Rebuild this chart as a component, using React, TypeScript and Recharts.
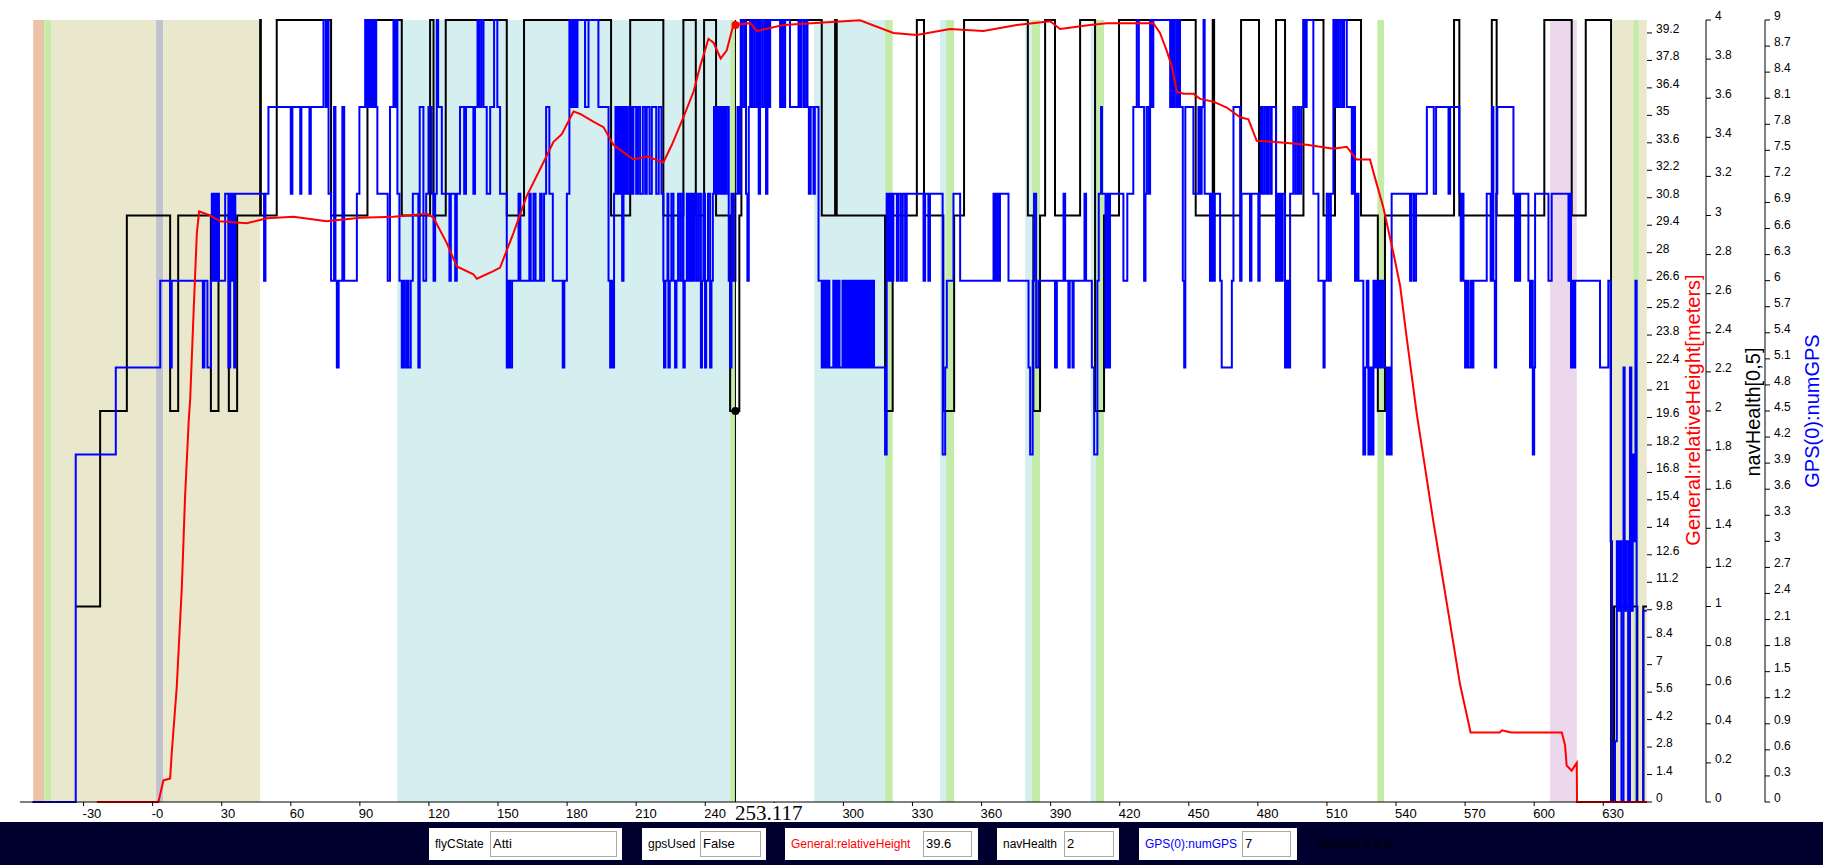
/** FlightLog — navHealth / numGPS / relativeHeight step traces over flight time, with flight-mode bands */
import {
  ComposedChart,
  Line,
  XAxis,
  YAxis,
  ReferenceArea,
  ReferenceLine,
  ReferenceDot,
} from 'recharts'

const FONT = "'Liberation Sans', Arial, sans-serif"

const T_START = -57.6
const T_END = 649
const CURSOR_T = 253.117

// right axes are stacked in id order, so ids keep height innermost
const AX_H = 'axis1Height'
const AX_NAV = 'axis2Nav'
const AX_GPS = 'axis3Gps'

// time ticks (seconds)
const xTicks = [-30, 0, 30, 60, 90, 120, 150, 180, 210, 240, 270, 300, 330, 360, 390, 420, 450, 480, 510, 540, 570, 600, 630]
const heightTicks = [0, 1.4, 2.8, 4.2, 5.6, 7, 8.4, 9.8, 11.2, 12.6, 14, 15.4, 16.8, 18.2, 19.6, 21, 22.4, 23.8, 25.2, 26.6, 28, 29.4, 30.8, 32.2, 33.6, 35, 36.4, 37.8, 39.2]
const navTicks = [0, 0.2, 0.4, 0.6, 0.8, 1, 1.2, 1.4, 1.6, 1.8, 2, 2.2, 2.4, 2.6, 2.8, 3, 3.2, 3.4, 3.6, 3.8, 4]
const gpsTicks = [0, 0.3, 0.6, 0.9, 1.2, 1.5, 1.8, 2.1, 2.4, 2.7, 3, 3.3, 3.6, 3.9, 4.2, 4.5, 4.8, 5.1, 5.4, 5.7, 6, 6.3, 6.6, 6.9, 7.2, 7.5, 7.8, 8.1, 8.4, 8.7, 9]

// flight mode periods [from, to, mode]
const modeBands: [number, number, string][] = [
  [-51.9, -47.1, 'motorStart'],
  [-47.1, -44.1, 'switch'],
  [-44.1, 1.5, 'atti'],
  [1.5, 4.6, 'takeoff'],
  [4.6, 46.7, 'atti'],
  [106.2, 250.8, 'gpsAtti'],
  [250.8, 253.4, 'switch'],
  [287.3, 318.1, 'gpsAtti'],
  [318.1, 321.4, 'switch'],
  [342.0, 344.6, 'gpsAtti'],
  [344.6, 348.1, 'switch'],
  [378.9, 381.8, 'gpsAtti'],
  [381.8, 385.4, 'switch'],
  [407.4, 409.6, 'gpsAtti'],
  [409.6, 413.2, 'switch'],
  [531.9, 534.8, 'switch'],
  [606.9, 618.5, 'autoLanding'],
  [634.1, 648.9, 'atti'],
  [643.1, 645.3, 'switch'],
]

const modeColors: Record<string, string> = {
  motorStart:  '#ebc3a8',
  switch:      '#c5eba8',
  atti:        '#e9e8cc',
  takeoff:     '#c0c2ce',
  gpsAtti:     '#d5eff0',
  autoLanding: '#ecd8ec',
}

// navHealth steps [t, value]
const navHealthSteps: [number, number][] = [
  [-33.4, 1], [-22.8, 2], [-11.2, 3], [7.6, 2], [11.1, 3], [25.3, 2], [28.6, 3], [33.1, 2], [36.7, 3],
  [46.7, 4], [47.0, 3], [53.9, 4], [77.5, 3], [93.3, 4], [108.2, 3], [120.5, 4], [122.0, 3], [127.3, 4],
  [153.8, 3], [161.3, 4], [199.1, 3], [207.4, 4], [221.8, 3], [230.5, 4], [235.9, 3], [239.5, 4],
  [244.7, 3], [250.8, 2], [254.8, 3], [255.7, 4], [290.6, 3], [296.4, 4], [297.1, 3], [318.1, 2],
  [321.4, 3], [331.9, 4], [335.0, 3], [343.4, 2], [348.1, 3], [352.4, 4], [380.1, 3], [382.5, 2],
  [385.4, 3], [387.6, 4], [391.9, 3], [402.8, 4], [409.3, 2], [413.2, 3], [419.7, 4], [453.0, 3],
  [460.4, 4], [461.0, 3], [472.7, 4], [480.5, 3], [487.9, 4], [491.8, 3], [499.8, 4], [508.5, 3],
  [513.5, 4], [524.8, 3], [532.1, 2], [535.2, 3], [565.2, 4], [567.5, 3], [581.6, 4], [583.7, 3],
  [604.4, 4], [616.3, 3], [622.4, 4], [633.4, 0], [634.7, 1], [644.8, 0], [647.4, 1], [649, 1],
]

// GPS(0):numGPS steps [t, value]
const numGpsSteps: [number, number][] = [
  [-52.2, 0], [-33.4, 4], [-16.0, 5], [3.3, 6], [7.6, 5], [8.3, 6], [21.8, 5], [22.5, 6], [23.8, 5], [25.3, 6],
  [25.7, 7], [26.4, 6], [27.0, 7], [27.6, 6], [28.2, 7], [28.8, 6], [31.5, 7], [32.9, 5], [33.7, 7], [34.4, 6],
  [35.0, 7], [35.4, 5], [35.9, 7], [48.4, 6], [49.0, 7], [50.3, 8], [60.0, 7], [60.7, 8], [64.1, 7], [64.6, 8],
  [68.1, 7], [68.7, 8], [74.2, 9], [75.2, 8], [75.6, 9], [76.4, 7], [77.5, 6], [78.8, 8], [79.4, 6], [80.0, 5],
  [80.8, 6], [82.4, 8], [83.2, 6], [88.7, 7], [89.8, 8], [92.3, 9], [92.9, 8], [93.4, 9], [94.2, 8], [94.9, 9],
  [95.6, 8], [96.3, 9], [97.1, 8], [97.6, 7], [102.1, 6], [103.1, 8], [104.6, 9], [105.2, 8], [105.7, 9], [106.3, 7],
  [107.2, 6], [108.2, 5], [108.9, 6], [109.5, 5], [110.4, 6], [111.1, 5], [112.1, 6], [113.0, 7], [115.4, 5], [116.0, 8],
  [117.6, 6], [118.8, 7], [119.8, 8], [121.2, 7], [122.0, 6], [122.7, 7], [123.4, 9], [124.0, 8], [125.6, 7], [128.9, 6],
  [129.5, 7], [131.4, 6], [132.1, 7], [133.5, 8], [135.3, 7], [136.1, 8], [139.3, 7], [140.0, 8], [141.1, 9], [141.9, 8],
  [142.8, 9], [143.7, 8], [145.1, 7], [146.6, 8], [148.3, 9], [149.7, 8], [150.9, 7], [153.8, 5], [154.5, 6], [155.2, 5],
  [156.1, 6], [158.9, 7], [159.7, 6], [163.6, 7], [164.2, 6], [165.4, 7], [166.3, 6], [168.3, 7], [169.0, 6], [170.0, 7],
  [170.9, 8], [172.3, 7], [173.8, 6], [178.1, 5], [178.8, 6], [179.9, 7], [181.0, 9], [181.6, 8], [182.2, 9], [182.8, 8],
  [183.3, 9], [183.9, 8], [184.5, 9], [187.8, 8], [189.3, 9], [193.6, 8], [198.0, 6], [198.7, 5], [199.3, 6], [199.8, 5],
  [200.4, 7], [201.0, 8], [201.6, 7], [202.2, 8], [202.7, 7], [203.3, 8], [203.9, 6], [204.5, 8], [205.0, 7], [205.6, 8],
  [206.2, 7], [207.1, 8], [208.1, 7], [208.8, 8], [210.0, 7], [210.8, 8], [211.7, 7], [212.9, 8], [213.9, 7], [214.6, 8],
  [215.8, 7], [216.8, 8], [218.7, 7], [219.8, 8], [221.0, 7], [221.8, 6], [222.1, 5], [222.7, 6], [223.6, 7], [224.0, 5],
  [224.6, 6], [225.3, 7], [226.2, 6], [226.9, 5], [227.5, 6], [228.2, 7], [229.1, 6], [230.0, 7], [230.5, 5], [231.1, 6],
  [232.0, 7], [232.6, 6], [233.1, 7], [233.7, 6], [234.3, 7], [234.9, 6], [235.4, 7], [236.3, 6], [237.2, 7], [238.1, 5],
  [238.6, 6], [239.2, 7], [239.9, 5], [240.4, 6], [241.2, 7], [242.1, 5], [242.7, 6], [243.3, 7], [243.8, 8], [244.4, 7],
  [245.0, 8], [245.7, 7], [246.5, 8], [247.2, 7], [247.9, 8], [248.6, 7], [249.3, 8], [250.2, 6], [250.8, 5], [251.4, 7],
  [252.2, 6], [253.1, 7], [254.0, 8], [254.6, 7], [255.4, 9], [256.3, 8], [257.2, 9], [257.7, 7], [258.3, 6], [258.9, 8],
  [259.5, 9], [260.3, 8], [261.2, 9], [262.1, 8], [262.7, 9], [263.2, 7], [263.8, 9], [264.7, 8], [265.6, 9], [266.4, 7],
  [267.0, 9], [267.6, 8], [268.2, 9], [272.5, 8], [273.2, 9], [273.9, 8], [274.7, 9], [276.8, 8], [280.5, 9], [281.2, 8],
  [281.9, 9], [282.9, 8], [283.8, 9], [284.4, 8], [285.0, 7], [285.8, 8], [287.0, 7], [287.6, 8], [289.2, 6], [290.6, 5],
  [291.1, 6], [291.7, 5], [292.2, 6], [292.8, 5], [293.3, 6], [293.9, 5], [295.6, 6], [296.1, 5], [296.6, 6], [297.2, 5],
  [297.7, 6], [298.3, 5], [299.6, 6], [300.1, 5], [300.6, 6], [301.2, 5], [301.7, 6], [302.3, 5], [302.8, 6], [303.4, 5],
  [303.9, 6], [304.5, 5], [305.0, 6], [305.6, 5], [306.1, 6], [306.7, 5], [307.2, 6], [307.8, 5], [308.3, 6], [308.9, 5],
  [309.4, 6], [310.0, 5], [310.5, 6], [311.1, 5], [311.6, 6], [312.2, 5], [312.7, 6], [313.3, 5],
  [318.1, 4], [318.8, 7], [319.6, 6], [320.3, 7], [321.0, 6], [321.7, 7],
  [323.2, 6], [323.9, 7], [324.9, 6], [325.8, 7], [326.8, 6], [327.5, 7], [334.8, 6], [335.5, 7], [336.9, 6], [337.6, 7],
  [343.1, 4], [344.2, 5], [344.9, 6], [347.8, 7], [350.7, 6], [365.2, 7], [365.9, 6], [366.6, 7], [367.3, 6], [368.0, 7],
  [371.7, 6], [380.4, 5], [381.1, 4], [382.2, 6], [382.8, 7], [383.7, 5], [384.7, 6], [391.9, 5], [392.7, 6], [395.6, 7],
  [396.3, 6], [397.7, 5], [398.3, 6], [399.5, 5], [400.0, 6], [404.7, 7], [405.4, 6], [407.9, 5], [408.9, 4], [410.3, 6],
  [410.9, 7], [411.9, 8], [412.3, 7], [413.8, 5], [414.4, 7], [415.0, 5], [415.8, 7], [421.6, 6], [423.3, 7], [425.9, 8],
  [427.4, 9], [428.3, 8], [430.6, 6], [431.2, 7], [431.7, 8], [432.6, 7], [433.2, 9], [433.9, 8], [434.6, 9], [441.9, 8],
  [442.5, 9], [443.3, 8], [443.9, 9], [444.8, 8], [445.4, 9], [446.2, 8], [447.4, 6], [448.0, 5], [448.5, 8], [452.0, 7],
  [454.2, 8], [454.9, 7], [455.6, 8], [456.4, 9], [456.9, 7], [459.2, 6], [460.0, 7], [460.7, 6], [461.3, 7], [463.6, 6],
  [464.3, 5], [468.7, 6], [469.4, 8], [472.3, 6], [472.9, 7], [476.6, 6], [477.2, 7], [480.2, 6], [480.8, 7], [481.3, 8],
  [482.1, 7], [483.0, 8], [483.9, 7], [484.7, 8], [485.6, 7], [486.0, 8], [487.9, 6], [488.5, 7], [489.1, 6], [489.7, 7],
  [490.2, 6], [490.8, 7], [491.8, 5], [492.5, 6], [493.3, 5], [494.0, 7], [495.4, 8], [496.3, 7], [497.2, 8], [498.0, 7],
  [498.9, 8], [499.8, 9], [500.6, 8], [501.2, 9], [504.1, 7], [506.3, 6], [508.5, 5], [509.0, 6], [509.9, 7], [510.8, 6],
  [511.7, 7], [512.8, 9], [513.4, 8], [514.0, 9], [514.8, 8], [515.7, 9], [516.6, 8], [517.4, 9], [518.6, 8], [520.8, 7],
  [521.5, 8], [522.2, 6], [522.9, 7], [523.7, 6], [525.8, 4], [526.6, 5], [527.3, 6], [528.0, 4], [528.7, 5], [529.5, 4],
  [530.2, 6], [530.8, 5], [531.3, 6], [531.9, 5], [532.5, 6], [533.1, 5], [533.9, 6], [534.8, 5], [536.0, 4], [536.8, 5],
  [537.4, 4], [538.1, 7], [546.1, 6], [546.8, 7], [547.8, 6], [548.7, 7], [553.4, 8], [556.4, 7], [557.4, 8], [562.8, 7],
  [563.5, 8], [567.5, 7], [568.1, 6], [568.7, 7], [569.3, 6], [570.0, 5], [570.7, 6], [571.4, 5], [572.4, 6], [573.0, 5],
  [573.6, 6], [579.4, 7], [581.1, 6], [581.7, 8], [582.3, 6], [582.9, 5], [583.5, 7], [584.0, 8], [591.0, 7], [591.7, 6],
  [592.4, 7], [593.2, 6], [593.9, 7], [597.5, 6], [598.2, 5], [598.9, 6], [599.4, 4], [600.0, 5], [600.4, 7], [606.2, 6],
  [607.6, 7], [614.9, 6], [615.4, 7], [616.0, 5], [616.6, 6], [617.2, 5], [617.8, 6], [628.6, 5], [632.2, 6], [633.2, 3],
  [633.8, 0], [635.1, 0.7], [635.9, 3], [636.7, 2.2], [637.3, 3], [637.9, 0], [638.8, 5], [639.3, 2.2], [639.9, 3], [640.8, 0],
  [641.6, 5], [642.2, 2.2], [642.8, 4], [643.4, 3], [644.0, 6], [644.5, 0], [647.4, 2.2], [648.9, 2.2],
]

// General:relativeHeight [t, meters]
const heightPts: [number, number][] = [
  [-24.2, 0], [2.5, 0], [4.7, 1.1], [7.6, 1.2], [8.3, 2.5], [10.5, 5.9], [12.7, 11.0], [14.1, 15.6], [15.7, 19.5],
  [16.3, 20.5], [17.7, 24.7], [19.2, 29.0], [20.2, 30.1], [25.0, 29.9], [29.3, 29.6], [40.9, 29.5], [49.6, 29.75],
  [61.2, 29.83], [75.6, 29.6], [90.1, 29.78], [104.6, 29.83], [119.1, 29.98], [122.0, 29.78], [127.7, 28.5],
  [132.1, 27.3], [139.3, 26.9], [140.8, 26.67], [148.0, 27.06], [150.9, 27.24], [156.7, 29.0], [162.5, 30.9],
  [169.7, 32.6], [174.1, 33.65], [177.7, 34.04], [182.8, 35.2], [185.7, 35.07], [191.4, 34.68], [195.8, 34.4],
  [200.1, 33.5], [208.8, 32.75], [215.0, 32.9], [221.8, 32.6], [225.5, 33.5], [230.5, 34.9], [234.9, 36.2],
  [237.8, 37.5], [241.4, 38.9], [243.6, 38.7], [246.7, 37.9], [249.3, 38.3], [252.2, 39.6], [259.5, 39.7],
  [262.4, 39.3], [274.0, 39.6], [307.2, 39.85], [321.7, 39.2], [331.9, 39.1], [346.3, 39.4], [360.8, 39.3],
  [375.3, 39.6], [389.8, 39.8], [394.1, 39.4], [407.1, 39.6], [414.4, 39.7], [434.6, 39.7], [437.5, 39.2],
  [440.4, 38.3], [442.6, 37.5], [444.8, 36.2], [447.7, 36.1], [452.0, 36.1], [454.9, 35.84], [460.7, 35.7],
  [466.5, 35.4], [472.3, 34.9], [475.9, 34.8], [479.5, 33.7], [486.7, 33.65], [501.2, 33.5], [512.8, 33.3],
  [518.6, 33.4], [522.9, 32.75], [528.7, 32.75], [530.9, 31.8], [534.5, 30.3], [538.9, 27.96], [541.8, 26.3],
  [544.7, 23.6], [549.0, 19.8], [556.2, 14.3], [563.5, 9.1], [567.8, 6.0], [572.4, 3.54], [585.0, 3.54],
  [586.0, 3.65], [590.0, 3.54], [612.0, 3.54], [613.4, 2.9], [614.1, 1.86], [616.3, 1.6], [618.5, 2.0],
  [618.6, 0], [649, 0],
]

// values at the cursor, shown in the readout bar
const readout = [
  { label: 'flyCState', value: 'Atti', color: '#000000' },
  { label: 'gpsUsed', value: 'False', color: '#000000' },
  { label: 'General:relativeHeight', value: '39.6', color: '#ff0000' },
  { label: 'navHealth', value: '2', color: '#000000' },
  { label: 'GPS(0):numGPS', value: '7', color: '#0000ff' },
]
const CURSOR_HEIGHT = 39.6
const CURSOR_NAV = 2

const navData = navHealthSteps.map(([t, v]) => ({ t, v }))
const gpsData = numGpsSteps.map(([t, v]) => ({ t, v }))
const heightData = heightPts.map(([t, v]) => ({ t, v }))

// box geometry for the readout bar: [boxLeft, boxWidth, inputLeft, inputWidth]
const readoutBoxes: [number, number, number, number][] = [
  [429, 193, 490, 127],
  [642, 124, 700, 61],
  [785, 193, 923, 49],
  [997, 122, 1064, 50],
  [1139, 158, 1242, 49],
]

// eslint-disable-next-line @typescript-eslint/no-explicit-any
function RightTick({ x, y, payload }: any) {
  return (
    <g>
      <line x1={x} x2={x + 5} y1={y} y2={y} stroke="#000" strokeWidth={1} />
      <text x={x + 9} y={y} fontSize={12} fontFamily={FONT} fill="#000" textAnchor="start">
        {String(payload.value)}
      </text>
    </g>
  )
}

// eslint-disable-next-line @typescript-eslint/no-explicit-any
function TimeTick({ x, y, payload }: any) {
  const label = payload.value === 0 ? '-0' : String(payload.value)
  // the cursor time box sits over this label
  const hidden = Math.abs(payload.value - CURSOR_T) < 30 && payload.value > CURSOR_T
  return (
    <g>
      <line x1={x} x2={x} y1={y} y2={y + 4} stroke="#000" strokeWidth={1} />
      {!hidden && (
        <text x={x - 1} y={y + 16} fontSize={13} fontFamily={FONT} fill="#000" textAnchor="start">
          {label}
        </text>
      )}
    </g>
  )
}

export default function App() {
  return (
    <div style={{
      position:   'absolute',
      left:       0,
      top:        0,
      width:      1823,
      height:     865,
      background: '#ffffff',
      overflow:   'hidden',
      fontFamily: FONT,
    }}>
      <ComposedChart width={1823} height={865} margin={{ top: 20, right: 0, bottom: 23, left: 20 }}>
        <XAxis
          dataKey="t"
          type="number"
          domain={[T_START, T_END]}
          allowDataOverflow
          ticks={xTicks}
          interval={0}
          tick={<TimeTick />}
          tickLine={false}
          tickSize={0}
          tickMargin={0}
          axisLine={{ stroke: '#000', strokeWidth: 1 }}
          height={40}
        />
        <YAxis
          yAxisId={AX_H}
          orientation="right"
          type="number"
          domain={[0, 39.86]}
          ticks={heightTicks}
          interval={0}
          tick={<RightTick />}
          tickLine={false}
          tickSize={0}
          tickMargin={0}
          axisLine={false}
          width={59}
        />
        <YAxis
          yAxisId={AX_NAV}
          orientation="right"
          type="number"
          domain={[0, 4]}
          ticks={navTicks}
          interval={0}
          tick={<RightTick />}
          tickLine={false}
          tickSize={0}
          tickMargin={0}
          axisLine={{ stroke: '#000', strokeWidth: 1 }}
          width={59}
        />
        <YAxis
          yAxisId={AX_GPS}
          orientation="right"
          type="number"
          domain={[0, 9]}
          ticks={gpsTicks}
          interval={0}
          tick={<RightTick />}
          tickLine={false}
          tickSize={0}
          tickMargin={0}
          axisLine={{ stroke: '#000', strokeWidth: 1 }}
          width={58}
        />

        {modeBands.map(([from, to, mode], i) => (
          <ReferenceArea
            key={i}
            yAxisId={AX_H}
            x1={from}
            x2={to}
            fill={modeColors[mode]}
            fillOpacity={1}
            stroke="none"
            ifOverflow="hidden"
          />
        ))}

        <Line
          data={navData}
          yAxisId={AX_NAV}
          dataKey="v"
          type="stepAfter"
          stroke="#000000"
          strokeWidth={2}
          dot={false}
          activeDot={false}
          isAnimationActive={false}
        />
        <Line
          data={gpsData}
          yAxisId={AX_GPS}
          dataKey="v"
          type="stepAfter"
          stroke="#0000ff"
          strokeWidth={2}
          dot={false}
          activeDot={false}
          isAnimationActive={false}
        />
        <Line
          data={heightData}
          yAxisId={AX_H}
          dataKey="v"
          type="linear"
          stroke="#ff0000"
          strokeWidth={2}
          dot={false}
          activeDot={false}
          isAnimationActive={false}
        />

        <ReferenceLine yAxisId={AX_H} x={CURSOR_T} stroke="#000" strokeWidth={1} />
        <ReferenceDot yAxisId={AX_NAV} x={CURSOR_T} y={CURSOR_NAV} r={4} fill="#000" stroke="none" />
        <ReferenceDot yAxisId={AX_H} x={CURSOR_T} y={CURSOR_HEIGHT} r={4} fill="#ff0000" stroke="none" />
      </ComposedChart>

      {/* axis titles */}
      <svg width={1823} height={865} style={{ position: 'absolute', left: 0, top: 0, pointerEvents: 'none' }}>
        <text x={1700} y={410} transform="rotate(-90 1700 410)" textAnchor="middle" fontSize={20} fontFamily={FONT} fill="#ff0000">
          General:relativeHeight[meters]
        </text>
        <text x={1760} y={412} transform="rotate(-90 1760 412)" textAnchor="middle" fontSize={20} fontFamily={FONT} fill="#000000">
          navHealth[0,5]
        </text>
        <text x={1819} y={411} transform="rotate(-90 1819 411)" textAnchor="middle" fontSize={20} fontFamily={FONT} fill="#0000ff">
          GPS(0):numGPS
        </text>
      </svg>

      {/* cursor time */}
      <div style={{
        position:   'absolute',
        left:       735,
        top:        803,
        width:      70,
        height:     20,
        background: '#ffffff',
        fontFamily: "'Liberation Serif', 'DejaVu Serif', serif",
        fontSize:   21,
        lineHeight: '20px',
        color:      '#000',
        whiteSpace: 'nowrap',
      }}>
        {CURSOR_T.toFixed(3)}
      </div>

      {/* readout bar */}
      <div style={{ position: 'absolute', left: 0, top: 822, width: 1823, height: 43, background: '#00002e' }}>
        {readout.map((r, i) => {
          const [bl, bw, il, iw] = readoutBoxes[i]!
          return (
            <div key={r.label}>
              <div style={{
                position:   'absolute',
                left:       bl,
                top:        6,
                width:      bw,
                height:     32,
                background: '#ffffff',
              }}>
                <span style={{
                  position:   'absolute',
                  left:       6,
                  top:        0,
                  lineHeight: '32px',
                  fontSize:   12,
                  color:      r.color,
                  whiteSpace: 'nowrap',
                }}>{r.label}</span>
              </div>
              <div style={{
                position:    'absolute',
                left:        il,
                top:         9,
                width:       iw,
                height:      26,
                boxSizing:   'border-box',
                border:      '1px solid #a8a8a8',
                background:  '#ffffff',
                fontSize:    13,
                lineHeight:  '24px',
                paddingLeft: 2,
                color:       '#000',
              }}>{r.value}</div>
            </div>
          )
        })}
        <span style={{ position: 'absolute', left: 1316, top: 0, lineHeight: '43px', fontSize: 13, color: '#000000' }}>
          Version 3.6.6
        </span>
      </div>
    </div>
  )
}
